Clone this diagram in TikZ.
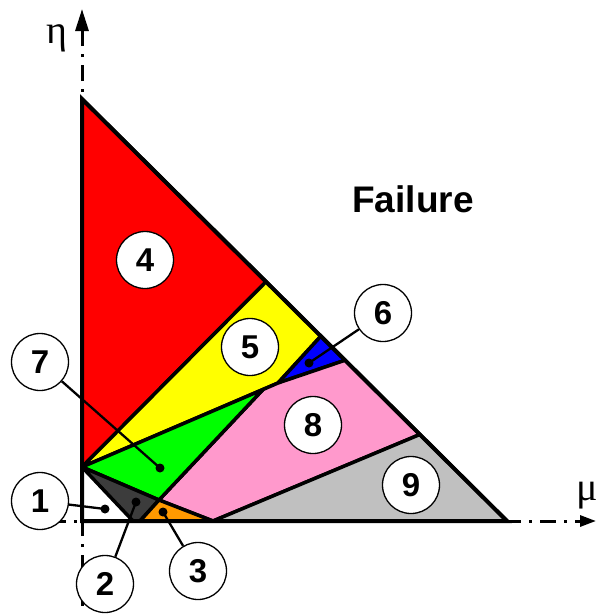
\documentclass[tikz,border=0pt]{standalone}
\usepackage{fontspec}
\setmainfont{Liberation Sans}
\newfontfamily\grk{Liberation Serif}
\usetikzlibrary{arrows.meta,calc}
\definecolor{cred}{HTML}{FF0000}
\definecolor{cyellow}{HTML}{FFFF00}
\definecolor{cgreen}{HTML}{00FF00}
\definecolor{cblue}{HTML}{0000FF}
\definecolor{cpink}{HTML}{FF99CC}
\definecolor{cgrey}{HTML}{C0C0C0}
\definecolor{cdark}{HTML}{3C3C3C}
\definecolor{corange}{HTML}{FF9900}
\begin{document}
\begin{tikzpicture}[x=1pt,y=-1pt,
  region/.style={draw=black,line width=3.5pt,line join=round},
  num/.style={circle,draw=black,fill=white,line width=1.3pt,minimum size=57pt,inner sep=0pt,font=\fontsize{33}{33}\selectfont\bfseries},
  leader/.style={line width=2.3pt},
  dotmark/.style={circle,fill=black,minimum size=9pt,inner sep=0pt},
  axisline/.style={line width=3pt,dash pattern=on 16pt off 8pt on 3pt off 8pt},
  greek/.style={font=\fontsize{40}{40}\selectfont\grk}
]
\useasboundingbox (0,0) rectangle (599,614);
% key points
\coordinate (T) at (82,99);
\coordinate (O) at (82,521);
\coordinate (R) at (507,521);
\coordinate (A) at (82,467);
\coordinate (B) at ($(T)!0.433!(R)$);
\coordinate (C) at ($(T)!0.562!(R)$);
\coordinate (D) at ($(T)!0.619!(R)$);
\coordinate (E) at ($(T)!0.795!(R)$);
\coordinate (F) at (278,383);
\coordinate (G) at (263,389.5);
\coordinate (H) at (159,500);
\coordinate (I1) at (133,521);
\coordinate (I2) at (140,521);
\coordinate (J) at (213,521);
% axes
\coordinate (ybot) at (82,606);
\coordinate (ytop) at (82,9);
\coordinate (xl) at (50,521);
\coordinate (xr) at (596,521);
\draw[axisline,-{Triangle[length=22pt,width=13pt]}] (ybot) -- (ytop);
\draw[axisline,-{Triangle[length=16pt,width=11pt]}] (xl) -- (xr);
\node[greek,anchor=base] (eta) at (57,43) {η};
\node[greek,anchor=base] (mu) at (587,500) {μ};
% regions
\filldraw[region,fill=cred] (T) -- (B) -- (A) -- cycle;
\filldraw[region,fill=cyellow] (A) -- (B) -- (C) -- (F) -- cycle;
\filldraw[region,fill=cblue] (C) -- (D) -- (F) -- cycle;
\filldraw[region,fill=cpink] (G) -- (F) -- (D) -- (E) -- (J) -- (H) -- cycle;
\filldraw[region,fill=cgrey] (J) -- (E) -- (R) -- cycle;
\filldraw[region,fill=cgreen] (A) -- (G) -- (H) -- cycle;
\filldraw[region,fill=cdark] (A) -- (H) -- (I2) -- (I1) -- cycle;
\filldraw[region,fill=corange] (I2) -- (H) -- (J) -- cycle;
\draw[line width=4pt,line join=miter] (T) -- (R) -- (O) -- cycle;
% label text
\node[font=\fontsize{37}{37}\selectfont\bfseries,anchor=base] (fail) at (413,212) {Failure};
% dots
\node[dotmark] (d1) at (105,509) {};
\node[dotmark] (d2) at (136,502) {};
\node[dotmark] (d3) at (163,512) {};
\node[dotmark] (d6) at (309,363) {};
\node[dotmark] (d7) at (160,468) {};
% numbered circles
\node[num] (n1) at (40,501) {1};
\node[num] (n2) at (105,584) {2};
\node[num] (n3) at (198,571) {3};
\node[num] (n4) at (145,260) {4};
\node[num] (n5) at (250,347) {5};
\node[num] (n6) at (383,313) {6};
\node[num] (n7) at (40,362) {7};
\node[num] (n8) at (313,425) {8};
\node[num] (n9) at (411,485) {9};
% leaders
\draw[leader] (d1.center) -- (n1);
\draw[leader] (d2.center) -- (n2);
\draw[leader] (d3.center) -- (n3);
\draw[leader] (d6.center) -- (n6);
\draw[leader] (d7.center) -- (n7);
\end{tikzpicture}
\end{document}
